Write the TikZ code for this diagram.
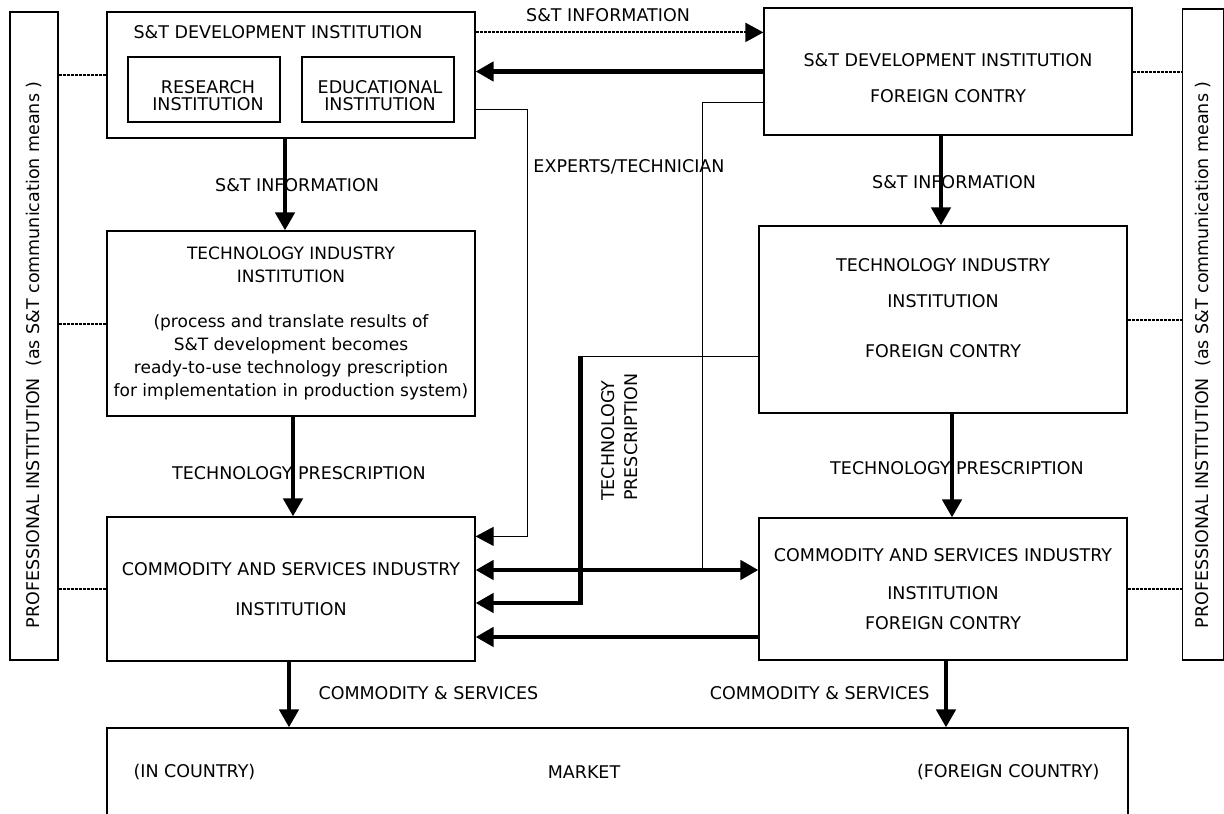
\documentclass[tikz,border=0pt]{standalone}
\usepackage{fontspec}
\setmainfont{DejaVu Sans}
\usetikzlibrary{arrows.meta}

\tikzset{
  box/.style={draw, line width=1.2pt, inner sep=0pt, align=center},
  txt/.style={align=center},
  fat/.style={line width=4.5pt, -{Triangle[length=18pt,width=19pt]}},
  fatboth/.style={line width=4.5pt, {Triangle[length=18pt,width=19pt]}-{Triangle[length=18pt,width=19pt]}},
  slim/.style={line width=1pt},
  slimarrow/.style={line width=1pt, -{Triangle[length=18pt,width=19pt]}},
  dotline/.style={line width=2pt, dash pattern=on 3pt off 1pt},
  dotarrow/.style={dotline, -{Triangle[length=18pt,width=19pt]}}
}

\begin{document}
\begin{tikzpicture}[x=1pt,y=-1pt,font=\fontsize{17.5}{23}\selectfont]
        \useasboundingbox (0,0) rectangle (1224,814);
        % Pannelli laterali
        \node[box, minimum width=48pt, minimum height=648pt] (lp) at (34,336) {};
        \node[rotate=90, anchor=west] (lptext) at (34,632) {PROFESSIONAL INSTITUTION~~(as S\&T communication means )};
        \node[box, minimum width=41pt, minimum height=651pt] (rp) at (1203,334.5) {};
        \node[rotate=90, anchor=west] (rptext) at (1203,632) {PROFESSIONAL INSTITUTION~~(as S\&T communication means )};
        % Paese
        \node[box, minimum width=368pt, minimum height=126pt] (devA) at (291,75) {};
        \node[anchor=west] (devAtitle) at (130,32) {S\&T DEVELOPMENT INSTITUTION};
        \node[box, minimum width=152pt, minimum height=65pt] (research) at (204,89.5) {};
        \node[txt, font=\fontsize{17.5}{17}\selectfont] (researchtext) at (208,96) {RESEARCH\\INSTITUTION};
        \node[box, minimum width=152pt, minimum height=65pt] (edu) at (378,89.5) {};
        \node[txt, font=\fontsize{17.5}{17}\selectfont] (edutext) at (380,96) {EDUCATIONAL\\INSTITUTION};
        \node[box, minimum width=368pt, minimum height=185pt, font=\fontsize{17}{23}\selectfont] (techB) at (291,323.5) {TECHNOLOGY INDUSTRY\\INSTITUTION\\[22pt](process and translate results of\\S\&T development becomes\\ready-to-use technology prescription\\for implementation in production system)};
        \node[box, minimum width=368pt, minimum height=144pt] (commC) at (291,589) {COMMODITY AND SERVICES INDUSTRY\\[17pt]INSTITUTION};
        % Paese estero
        \node[box, minimum width=368pt, minimum height=127pt] (devD) at (948,71.5) {};
        \node[txt] (devDtext) at (948,78) {S\&T DEVELOPMENT INSTITUTION\\[13pt]FOREIGN CONTRY};
        \node[box, minimum width=368pt, minimum height=187pt] (techE) at (943,319.5) {};
        \node[txt] (techEtext) at (943,308) {TECHNOLOGY INDUSTRY\\[13pt]INSTITUTION\\[27pt]FOREIGN CONTRY};
        \node[box, minimum width=368pt, minimum height=142pt] (commF) at (943,589) {COMMODITY AND SERVICES INDUSTRY\\[15pt]INSTITUTION\\[7pt]FOREIGN CONTRY};
        % Mercato
        \node[box, minimum width=1021pt, minimum height=102pt] (market) at (617.5,779) {};
        \node[anchor=west] (inC) at (130,772) {(IN COUNTRY)};
        \node (mk) at (584,772) {MARKET};
        \node[anchor=east] (frC) at (1103,772) {(FOREIGN COUNTRY)};
        % Etichette
        \node (infoTop) at (608,15) {S\&T INFORMATION};
        \node (infoA) at (297,185) {S\&T INFORMATION};
        \node (presB) at (299,473) {TECHNOLOGY PRESCRIPTION};
        \node (experts) at (629,167) {EXPERTS/TECHNICIAN};
        \node (infoD) at (954,182) {S\&T INFORMATION};
        \node (presE) at (957,468) {TECHNOLOGY PRESCRIPTION};
        \node[anchor=west] (goodsC) at (315,693) {COMMODITY \& SERVICES};
        \node[anchor=east] (goodsF) at (933,693) {COMMODITY \& SERVICES};
        \node[rotate=90, align=left] (presV) at (620,437) {TECHNOLOGY\\PRESCRIPTION};
        % Frecce verticali
        \coordinate (aS) at ([xshift=-6pt]devA.south);
        \draw[fat] (aS) -- (aS |- techB.north);
        \coordinate (bS) at ([xshift=2pt]techB.south);
        \draw[fat] (bS) -- (bS |- commC.north);
        \coordinate (cS) at ([xshift=-2pt]commC.south);
        \draw[fat] (cS) -- (cS |- market.north);
        \coordinate (dS) at ([xshift=-7pt]devD.south);
        \draw[fat] (dS) -- (dS |- techE.north);
        \coordinate (eS) at ([xshift=9pt]techE.south);
        \draw[fat] (eS) -- (eS |- commF.north);
        \coordinate (fS) at ([xshift=3pt]commF.south);
        \draw[fat] (fS) -- (fS |- market.north);
        % Frecce orizzontali
        \coordinate (aE1) at ([yshift=-21pt]devA.north east);
        \draw[dotarrow] (aE1) -- (aE1 -| devD.west);
        \draw[fat] (devD.west) -- (devD.west -| devA.east);
        \coordinate (aE2) at ([yshift=-98pt]devA.north east);
        \coordinate (expTurn) at ([xshift=52pt,yshift=-20pt]commC.north east);
        \draw[slimarrow] (aE2) -| (expTurn) -- (expTurn -| commC.east);
        \coordinate (dW) at ([yshift=-95pt]devD.north west);
        \coordinate (link) at ([xshift=-56pt,yshift=19pt]commF.west);
        \draw[slim] (dW) -| (link);
        \draw[fatboth] ([yshift=19pt]commC.east) -- ([yshift=19pt]commF.west);
        \coordinate (eW) at ([yshift=-131pt]techE.north west);
        \coordinate (pX) at ([xshift=105pt]commC.east);
        \coordinate (pTop) at (pX |- eW);
        \coordinate (pBot) at ([yshift=-14pt]pX);
        \draw[slim] (eW) -- (pTop);
        \draw[fat] (pTop) -- (pBot) -- (pBot -| commC.east);
        \draw[fat] ([yshift=-48pt]commF.west) -- ([yshift=-48pt]commC.east);
        % Linee punteggiate
        \foreach \n in {devA,techB,commC}
          \draw[dotline] (lp.east |- \n.west) -- (\n.west);
        \foreach \n in {devD,techE,commF}
          \draw[dotline] (\n.east) -- (\n.east -| rp.west);
    \end{tikzpicture}
\end{document}
